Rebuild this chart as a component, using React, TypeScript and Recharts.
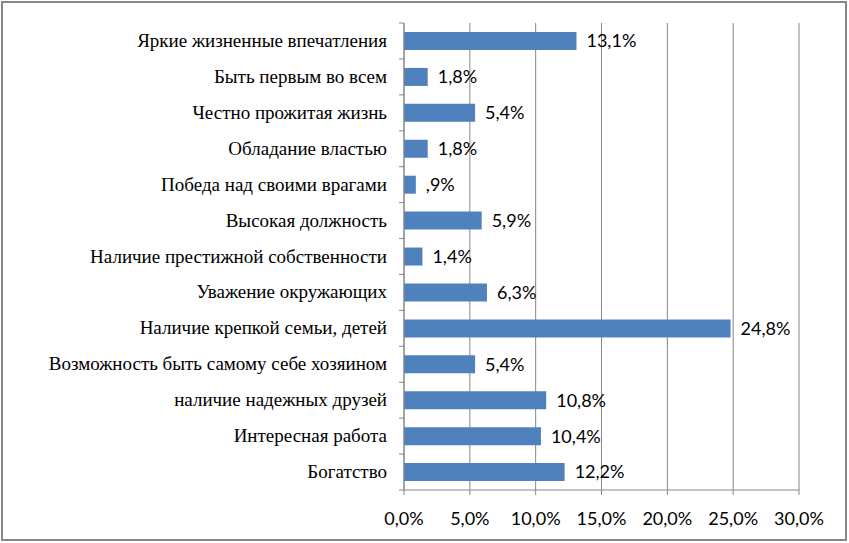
import React from 'react';
import {
  BarChart,
  Bar,
  XAxis,
  YAxis,
  CartesianGrid,
  LabelList
} from 'recharts';

const categories = [
  'Яркие жизненные впечатления',
  'Быть первым во всем',
  'Честно прожитая жизнь',
  'Обладание властью',
  'Победа над своими врагами',
  'Высокая должность',
  'Наличие престижной собственности',
  'Уважение окружающих',
  'Наличие крепкой семьи, детей',
  'Возможность быть самому себе хозяином',
  'наличие надежных друзей',
  'Интересная работа',
  'Богатство',
];

const values = [13.1, 1.8, 5.4, 1.8, 0.9, 5.9, 1.4, 6.3, 24.8, 5.4, 10.8, 10.4, 12.2];

const xTicks = [0, 5, 10, 15, 20, 25, 30];

const data = categories.map((name, i) => ({ name, value: values[i] }));

const W = 849;
const H = 543;
const TOP = 23;
const AXIS_H = 53;
const BAND = (H - TOP - AXIS_H) / categories.length;

const GRAY = '#868686';
const SANS = 'Lato, "Open Sans", sans-serif';
const SERIF = '"Times New Roman", "Liberation Serif", "DejaVu Serif", serif';

// comma decimal, no leading zero (",9%")
const fmtValue = (v: number) => {
  let s = v.toFixed(1).replace('.', ',');
  if (s.startsWith('0,')) s = s.slice(1);
  return s + '%';
};

// label plus the small tick marks that sit between categories
const renderCategoryTick = (props: any) => {
  const { x, y, payload, index } = props;
  const ax = x + 17;
  return (
    <g>
      <line x1={ax - 5} x2={ax} y1={y - BAND / 2} y2={y - BAND / 2} stroke={GRAY} />
      {index === categories.length - 1 && (
        <line x1={ax - 5} x2={ax} y1={y + BAND / 2} y2={y + BAND / 2} stroke={GRAY} />
      )}
      <text x={x} y={y} dy={6} textAnchor="end" fill="#000" fontSize={19} fontFamily={SERIF}>
        {payload.value}
      </text>
    </g>
  );
};

export default function App() {
  return (
    <div style={{ position: 'absolute', left: 0, top: 0, width: W, height: H, background: '#fff' }}>
      <BarChart
        width={W}
        height={H}
        data={data}
        layout="vertical"
        margin={{ top: TOP, right: 50, bottom: 0, left: 0 }}
      >
        <CartesianGrid horizontal={false} stroke={GRAY} />
        <XAxis
          type="number"
          domain={[0, 30]}
          ticks={xTicks}
          interval={0}
          height={AXIS_H}
          stroke={GRAY}
          tickSize={5}
          tickMargin={17}
          tickFormatter={(v: number) => v.toFixed(1).replace('.', ',') + '%'}
          tick={{ fill: '#000', fontSize: 18, fontFamily: SANS }}
        />
        <YAxis
          type="category"
          dataKey="name"
          width={404}
          stroke={GRAY}
          tickLine={false}
          tickMargin={11}
          interval={0}
          tick={renderCategoryTick}
        />
        <Bar dataKey="value" fill="#4F81BD" barSize={18} isAnimationActive={false}>
          <LabelList
            dataKey="value"
            position="right"
            offset={10}
            formatter={(v: any) => fmtValue(Number(v))}
            style={{ fill: '#000', fontSize: 18, fontFamily: SANS }}
          />
        </Bar>
      </BarChart>
      <div
        style={{
          position: 'absolute',
          left: 1,
          top: 1,
          width: 846,
          height: 540,
          border: '2px solid #878787',
          boxSizing: 'border-box',
          pointerEvents: 'none',
        }}
      />
    </div>
  );
}
